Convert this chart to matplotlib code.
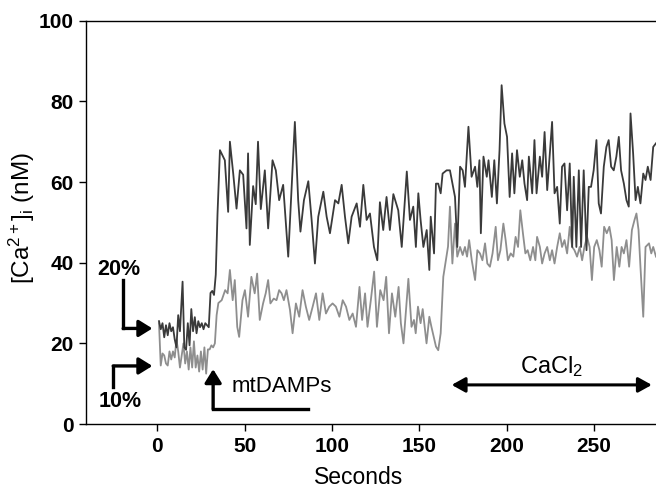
import numpy as np
import matplotlib
matplotlib.use("Agg")
import matplotlib.pyplot as plt

plt.rcParams['font.family'] = ['Liberation Sans', 'DejaVu Sans']
plt.rcParams['mathtext.fontset'] = 'custom'
plt.rcParams['mathtext.rm'] = 'Liberation Sans'
plt.rcParams['mathtext.it'] = 'Liberation Sans:italic'

# 20% O2 trace (dark)
t_20 = [1, 2, 3, 4, 5, 6, 7, 8, 9, 10, 11, 12, 13, 14.5, 15.5, 16.5, 17.5, 18.5,
        19.5, 20.5, 21.5, 22.5, 23.5, 24.5, 25.5, 26.5, 27.5, 28.5, 29.5, 30.5,
        31.5, 32.5, 33.5, 34.5, 35.9, 38.7, 40.6, 41.6, 43.5, 45.4, 47.3, 49.2,
        51.1, 52.0, 53.0, 54.9, 56.4, 57.7, 59.3, 61.6, 63.5, 66.0, 67.9, 69.8,
        72.1, 75.0, 78.8, 80.7, 82.0, 84.0, 86.5, 88.4, 90.3, 92.2, 95.1, 97.0,
        98.9, 101.8, 103.7, 105.6, 107.5, 109.4, 111.3, 114.2, 116.1, 118.0,
        119.9, 121.8, 124.1, 126.0, 127.5, 129.4, 131.3, 133.2, 135.2, 138.0,
        140.0, 142.9, 144.7, 146.6, 148.1, 149.5, 150.8, 152.4, 154.3, 155.8,
        156.6, 158.5, 159.6, 160.9, 162.3, 163.4, 165.7, 167.6, 170.5, 171.8,
        173.4, 174.9, 176.2, 178.2, 180.0, 182.0, 183.3, 184.5, 185.3, 186.8,
        188.7, 189.7, 191.6, 193.0, 194.5, 196.0, 197.2, 198.8, 200.3, 201.8,
        203.2, 204.5, 206.0, 207.6, 209.0, 210.3, 211.8, 212.8, 214.7, 216.0,
        217.2, 219.1, 220.4, 221.8, 223.3, 224.8, 226.1, 227.5, 229.0, 230.5,
        231.8, 233.2, 234.7, 236.2, 237.6, 238.5, 240.0, 241.4, 242.7, 244.2,
        245.8, 247.1, 248.4, 249.9, 251.5, 252.8, 254.1, 255.7, 257.2, 258.5,
        259.9, 261.4, 262.9, 264.3, 265.6, 267.2, 268.7, 270.0, 271.0, 272.5,
        273.9, 275.2, 276.7, 278.3, 279.6, 280.9, 282.5, 284.0, 285.6]
ca_20 = [25.5, 23.5, 25, 21.5, 24.5, 22, 25, 23, 24, 21, 19, 27, 23, 35.3, 19,
         18.4, 25, 19.5, 28.5, 23, 26.5, 22.5, 25.5, 24, 25, 23.5, 25, 24.5, 24,
         32.5, 33, 32, 37, 52, 67.9, 65.4, 52.6, 70, 62.1, 53.4, 62.9, 61.8,
         48.5, 67.1, 44.4, 59, 54.5, 70, 53.3, 62.9, 48.5, 65.4, 62.9, 55.5,
         59.3, 41.5, 74.9, 55.5, 47.7, 55.5, 60.2, 50.6, 39.8, 51.4, 57.6, 51.4,
         47.3, 55.5, 54.7, 59.3, 51.4, 44.8, 51.4, 54.7, 48.9, 59.3, 50.6, 52.2,
         43.9, 40.6, 55, 48.1, 56.3, 48.1, 57, 53, 43.9, 62.6, 50.6, 53.9, 43.9,
         57.2, 50.6, 43.9, 48.1, 38.2, 51.4, 42.3, 59.6, 59.6, 57.2, 62.1, 62.9,
         62.9, 56.3, 43.9, 63.8, 62.9, 58.8, 73.7, 61.3, 63.8, 58.8, 65.4, 47.3,
         66.3, 61.3, 65.4, 56.3, 65.4, 54.7, 67.9, 84, 74.5, 71.2, 56.3, 67.1,
         57.2, 67.9, 61.3, 65.4, 59.6, 55.5, 66.3, 57.2, 70.4, 57.2, 66.3, 61.3,
         72.4, 58, 67.1, 74.9, 57.2, 58.8, 49.7, 63.8, 64.6, 53, 64.6, 43.9,
         61.3, 43.9, 62.9, 43.9, 62.9, 43.1, 58.8, 58.8, 62.9, 70.4, 54.7, 52.2,
         63.8, 68.7, 70.4, 63.8, 62.9, 66.3, 71.2, 62.9, 59.6, 55.5, 53.9, 77,
         67.1, 55.5, 58.8, 54.7, 62.1, 60.5, 63.8, 60.5, 68.7, 69.6]

# 10% O2 trace (light)
t_10 = [1, 2, 3, 4, 5, 6, 7, 8, 9, 10, 11, 12, 13, 14, 15, 16, 17, 18, 19, 20,
        21, 22, 23, 24, 25, 26, 27, 28, 29, 30, 31, 32, 33, 34, 35, 36.9, 38.9,
        40.3, 41.6, 43.2, 44.4, 45.8, 46.9, 48.8, 50.2, 52.0, 53.9, 55.8, 57.2,
        58.7, 60.6, 62.1, 63.5, 64.8, 66.7, 68.3, 69.8, 71.2, 72.5, 74.0, 76.0,
        77.5, 79.4, 81.3, 83.2, 85.1, 87.0, 89.0, 90.9, 92.8, 94.7, 96.6, 98.5,
        100.4, 102.3, 104.3, 106.2, 108.1, 110.0, 111.9, 113.8, 115.8, 117.3,
        119.0, 120.4, 122.3, 124.2, 125.8, 127.7, 129.6, 131.1, 132.7, 134.4,
        136.3, 138.2, 139.5, 141.0, 143.8, 145.6, 147.0, 148.0, 149.3, 150.8,
        152.0, 154.2, 155.8, 157.0, 159.6, 160.9, 162.3, 163.8, 165.3, 166.5,
        167.6, 169.0, 170.5, 171.8, 173.4, 174.9, 176.2, 177.4, 178.6, 180.1,
        182.0, 183.3, 184.8, 186.2, 187.7, 189.0, 190.5, 192.0, 193.8, 195.1,
        196.5, 198.2, 199.5, 200.8, 202.4, 203.9, 205.2, 206.6, 207.9, 209.4,
        210.8, 212.1, 213.6, 215.2, 216.5, 217.5, 219.1, 220.4, 221.8, 223.3,
        224.8, 226.1, 227.5, 229.0, 230.5, 231.8, 233.2, 234.7, 236.2, 237.6,
        238.9, 240.4, 241.9, 243.3, 244.6, 246.1, 247.6, 248.9, 250.2, 251.7,
        253.2, 254.5, 255.9, 257.4, 258.9, 260.2, 261.5, 263.1, 264.6, 265.9,
        267.2, 268.7, 270.2, 271.8, 273.3, 274.4, 275.6, 276.7, 278.3, 279.6,
        281.6, 282.9, 284.0, 285.6]
ca_10 = [25, 14.5, 17.5, 17, 15, 14.5, 18, 16, 18, 16.5, 21, 18, 14, 17, 20, 15,
         18, 13.5, 19, 14, 20.5, 14, 17, 13, 18, 13.5, 19, 12.5, 18.5, 18.5,
         19.5, 19, 20, 27, 30, 30.7, 33.2, 32.4, 38.2, 30.7, 35.7, 24.1, 21.6,
         30.7, 33.2, 26.6, 36.5, 32.4, 37.3, 25.8, 29.9, 32.4, 35.7, 29.9, 31.1,
         30.7, 33.2, 32.4, 30.7, 33.2, 28.3, 22.5, 29.9, 26.6, 33.2, 29.1, 25.8,
         29.1, 32.4, 25.8, 32.4, 27.4, 29.1, 29.9, 29.1, 26.6, 30.7, 29.1, 25.8,
         27.4, 24.1, 34, 25.8, 32.4, 24.1, 30.7, 37.8, 24.1, 33.2, 30.7, 36.5,
         22.5, 32.4, 26.6, 34, 25, 20, 36, 24.1, 25.8, 22.5, 29.1, 25, 28.5, 20,
         26.6, 24.1, 19.2, 18.3, 22.5, 36.5, 40.6, 44, 53.9, 39.8, 49.7, 41.5,
         43.9, 41.9, 43.9, 41.5, 45.6, 40.6, 35.7, 43.1, 42.3, 40.6, 44.8, 39.8,
         39, 42.3, 48.9, 40.6, 43.1, 49.7, 45.6, 40.6, 42.3, 41.5, 46.4, 43.9,
         53, 47.3, 42.3, 43.1, 40.6, 43.9, 40.6, 46.4, 43.9, 39.8, 42.3, 43.9,
         40.6, 43.1, 39.8, 43.9, 47.3, 43.9, 45.6, 42.3, 48.9, 43.9, 43.1, 41.5,
         43.9, 40.6, 43.9, 46.4, 43.9, 35.7, 43.9, 45.6, 43.1, 39, 48.9, 47.3,
         48.9, 45.6, 35.7, 43.9, 39, 43.9, 42.3, 45.6, 39, 48.1, 50.6, 52.2,
         48.1, 39, 26.6, 43.9, 44.8, 42.3, 43.9, 41.5]

x_ticks = [0, 50, 100, 150, 200, 250]
y_ticks = [0, 20, 40, 60, 80, 100]

fig = plt.figure(figsize=(6.56, 4.88), dpi=100)
ax = fig.add_axes([0.1311, 0.1311, 0.8689, 0.8265])

ax.plot(t_10, ca_10, color='#8e8e8e', lw=1.3)
ax.plot(t_20, ca_20, color='#3a3a3a', lw=1.3)

ax.set_xlim(-40.8, 285.6)
ax.set_ylim(0, 100)
ax.set_xticks(x_ticks)
ax.set_yticks(y_ticks)
ax.spines['right'].set_visible(False)
for s in ['left', 'bottom', 'top']:
    ax.spines[s].set_linewidth(1.0)
ax.tick_params(direction='out', length=5, width=1, labelsize=15, pad=4)
for lab in ax.get_xticklabels() + ax.get_yticklabels():
    lab.set_fontweight('bold')

ax.set_xlabel('Seconds', fontsize=16.5)
ax.set_ylabel(r'[Ca$^{2+}$]$_\mathrm{i}$ (nM)', fontsize=17.5)
ax.xaxis.set_label_coords(0.479, -0.103)
ax.yaxis.set_label_coords(-0.086, 0.51)

# annotations
arw = dict(arrowstyle='-|>,head_length=0.45,head_width=0.28', lw=2.4,
           color='black', mutation_scale=18, shrinkA=0, shrinkB=0)
kw = dict(color='black', lw=2.4, solid_capstyle='projecting', clip_on=False)

# 20%
ax.plot([-19.5, -19.5], [35.7, 23.7], **kw)
ax.annotate('', xy=(-2.8, 23.7), xytext=(-19.5, 23.7), arrowprops=arw,
            annotation_clip=False)
ax.text(-21.9, 38.2, '20%', fontsize=15.5, fontweight='bold', ha='center',
        va='center')
# 10%
ax.plot([-25.2, -25.2], [9.2, 14.4], **kw)
ax.annotate('', xy=(-2.8, 14.4), xytext=(-25.2, 14.4), arrowprops=arw,
            annotation_clip=False)
ax.text(-21.3, 5.6, '10%', fontsize=15.5, fontweight='bold', ha='center',
        va='center')
# mtDAMPs
ax.plot([32, 86.5], [3.7, 3.7], **kw)
ax.annotate('', xy=(32, 13.6), xytext=(32, 3.7), arrowprops=arw)
ax.text(42.5, 9.2, 'mtDAMPs', fontsize=16, ha='left', va='center')
# CaCl2
ax.annotate('', xy=(283.2, 9.7), xytext=(168.6, 9.7),
            arrowprops=dict(arrowstyle='<|-|>,head_length=0.45,head_width=0.25',
                            lw=2.2, color='black', mutation_scale=18,
                            shrinkA=0, shrinkB=0))
ax.text(226, 14.3, r'CaCl$_2$', fontsize=17, ha='center', va='center')

fig.savefig('out.png', dpi=100)
